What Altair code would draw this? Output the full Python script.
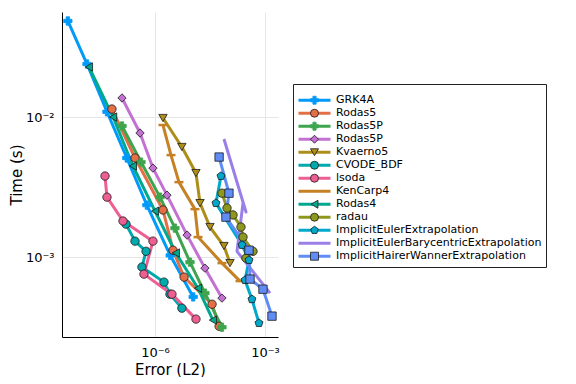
import altair as alt
import pandas as pd

series_names = ["GRK4A", "Rodas5", "Rodas5P", "Rodas5P\u200b", "Kvaerno5", "CVODE_BDF",
                "lsoda", "KenCarp4", "Rodas4", "radau", "ImplicitEulerExtrapolation",
                "ImplicitEulerBarycentricExtrapolation", "ImplicitHairerWannerExtrapolation"]
series_colors = ["#009AFA", "#E36F47", "#3EA44E", "#C371D2", "#AC8E18", "#00A9AD",
                 "#ED5E93", "#C68125", "#00A98D", "#8E971E", "#00A8CB", "#9B7FE8", "#608CF6"]
pentagon = "M0,-1L0.951,-0.309L0.588,0.809L-0.588,0.809L-0.951,-0.309Z"
empty = "M0,0"
marker_shapes = ["cross", "circle", "cross", "diamond", "triangle-down", "circle",
                 "circle", empty, "triangle-left", "circle", pentagon, empty, "square"]
marker_strokes = ["#009AFA", "#1a1a1a", "#3EA44E", "#1a1a1a", "#1a1a1a", "#1a1a1a",
                  "#1a1a1a", "#1a1a1a", "#1a1a1a", "#1a1a1a", "#1a1a1a", "#1a1a1a", "#1a1a1a"]

grk4a_err = [4.2e-9, 1.4e-8, 4.9e-8, 1.7e-7, 6.0e-7, 2.6e-6, 1.1e-5]
grk4a_time = [0.0485, 0.0239, 0.0109, 0.0051, 0.00235, 0.00103, 0.00052]
rodas5_err = [6.7e-8, 2.85e-7, 1.65e-6, 3.1e-6, 6.2e-6, 3.6e-5, 5.6e-5]
rodas5_time = [0.0114, 0.0051, 0.00217, 0.00112, 0.00072, 0.000461, 0.000321]
rodas5p_err = [1.26e-7, 4.15e-7, 1.37e-6, 3.5e-6, 9.0e-6, 2.3e-5, 6.7e-5]
rodas5p_time = [0.00863, 0.00477, 0.00268, 0.00161, 0.00092, 0.000553, 0.000316]
rodas5p_b_err = [1.26e-7, 3.9e-7, 8.8e-7, 2.12e-6, 7.5e-6, 2.3e-5, 6.7e-5]
rodas5p_b_time = [0.01368, 0.00769, 0.00432, 0.00277, 0.001436, 0.000834, 0.00051]
kvaerno5_err = [1.65e-6, 5.4e-6, 1.31e-5, 1.69e-5, 3.16e-5, 7.6e-5, 1.11e-4]
kvaerno5_time = [0.00984, 0.00611, 0.00398, 0.00243, 0.00164, 0.0012, 0.000906]
cvode_err = [1.62e-7, 2.85e-7, 5.7e-7, 4.4e-7, 1.76e-6, 2.56e-6, 5.4e-6]
cvode_time = [0.00172, 0.0013, 0.0011, 0.000849, 0.000663, 0.000544, 0.000432]
lsoda_err = [4.33e-8, 4.9e-8, 1.34e-7, 8.8e-7, 5.0e-7, 2.9e-6, 1.31e-5]
lsoda_time = [0.00379, 0.00268, 0.00181, 0.0013, 0.000756, 0.000544, 0.000361]
kencarp4_err = [1.65e-6, 2.73e-6, 4.5e-6, 1.23e-5, 1.49e-5, 6.7e-5, 2.08e-4]
kencarp4_time = [0.00877, 0.00535, 0.00343, 0.0022, 0.00139, 0.000906, 0.000674]
rodas4_err = [1.58e-8, 7.2e-8, 2.5e-7, 1.0e-6, 3.7e-6, 1.49e-5, 3.8e-5]
rodas4_time = [0.02275, 0.01, 0.00447, 0.00213, 0.00107, 0.0006, 0.000355]
radau_err = [6.7e-5, 9.2e-5, 1.34e-4, 2.21e-4, 2.51e-4, 4.7e-4, 3.03e-4]
radau_time = [0.00286, 0.00224, 0.002, 0.00164, 0.00139, 0.0011, 0.000984]
iee_err = [6.3e-5, 4.6e-5, 2.36e-4, 3.66e-4, 2.85e-4, 4.4e-4, 6.85e-4]
iee_time = [0.00379, 0.00243, 0.00122, 0.000952, 0.000685, 0.0005, 0.000338]
iebe_err = [7.6e-5, 3.03e-4, 2.51e-4, 1.72e-4, 1.37e-3]
iebe_time = [0.00697, 0.0021, 0.00243, 0.0011, 0.000553]
ihwe_err = [5.6e-5, 1.04e-4, 8.6e-5, 3.66e-4, 3.9e-4, 8.8e-4, 1.55e-3]
ihwe_time = [0.00518, 0.00286, 0.00193, 0.00112, 0.000697, 0.00059, 0.000379]

all_err = [grk4a_err, rodas5_err, rodas5p_err, rodas5p_b_err, kvaerno5_err, cvode_err,
           lsoda_err, kencarp4_err, rodas4_err, radau_err, iee_err, iebe_err, ihwe_err]
all_time = [grk4a_time, rodas5_time, rodas5p_time, rodas5p_b_time, kvaerno5_time, cvode_time,
            lsoda_time, kencarp4_time, rodas4_time, radau_time, iee_time, iebe_time, ihwe_time]

# marker layer uses its own category keys so that its legend is not merged with the line legend
marker_keys = [n + " (marker)" for n in series_names]

rows = []
for k, (name, key, errs, times) in enumerate(zip(series_names, marker_keys, all_err, all_time)):
    for i, (e, t) in enumerate(zip(errs, times)):
        rows.append({"series": name, "mkey": key, "sid": k, "idx": i, "err": e, "time": t})
df = pd.DataFrame(rows)

x_enc = alt.X("err:Q",
              scale=alt.Scale(type="log", domain=[2.91e-9, 2.26e-3], nice=False),
              axis=alt.Axis(values=[1e-6, 1e-3],
                            labelExpr="datum.value < 1e-4 ? '10⁻⁶' : '10⁻³'",
                            title="Error (L2)", titleY=32, titleBaseline="middle",
                            labelPadding=9))
y_enc = alt.Y("time:Q",
              scale=alt.Scale(type="log", domain=[2.69e-4, 0.0562], nice=False),
              axis=alt.Axis(values=[1e-3, 1e-2],
                            labelExpr="datum.value > 5e-3 ? '10⁻²' : '10⁻³'",
                            title="Time (s)", titleX=-46, titleBaseline="middle",
                            labelPadding=8))

legend_common = dict(orient="none", legendY=72, title=" ", titleFontSize=2, titlePadding=4,
                     labelFontSize=11, labelOffset=4, padding=4, clipHeight=12.45,
                     rowPadding=0)

line_legend = alt.Legend(legendX=231, symbolType="stroke", symbolSize=1024,
                         symbolStrokeWidth=3, labelColor="black", labelLimit=400,
                         strokeColor="#222222", fillColor="white", cornerRadius=0,
                         zindex=1, **legend_common)
marker_legend = alt.Legend(legendX=243, symbolSize=64, symbolStrokeWidth=0.8,
                           symbolStrokeColor="#1a1a1a", labelExpr="''", labelLimit=10,
                           zindex=2, **legend_common)

base = alt.Chart(df)

lines = base.mark_line(strokeWidth=3, strokeJoin="round").encode(
    x=x_enc, y=y_enc,
    color=alt.Color("series:N", scale=alt.Scale(domain=series_names, range=series_colors),
                    legend=line_legend),
    detail="sid:N",
    order="idx:Q",
)

ticks = base.transform_filter(alt.datum.series == "KenCarp4").mark_tick(
    orient="horizontal", thickness=2.5, size=9, color="#C68125", opacity=1
).encode(x=x_enc, y=y_enc)

points = base.transform_filter(
    (alt.datum.series != "KenCarp4") & (alt.datum.series != "ImplicitEulerBarycentricExtrapolation")
).mark_point(filled=True, size=70, strokeWidth=0.8, opacity=1).encode(
    x=x_enc, y=y_enc,
    fill=alt.Fill("mkey:N", scale=alt.Scale(domain=marker_keys, range=series_colors),
                  legend=marker_legend),
    shape=alt.Shape("mkey:N", scale=alt.Scale(domain=marker_keys, range=marker_shapes),
                    legend=marker_legend),
    stroke=alt.Stroke("mkey:N", scale=alt.Scale(domain=marker_keys, range=marker_strokes),
                      legend=None),
)

chart = alt.layer(lines, ticks, points).properties(
    width=216, height=325,
    autosize=alt.AutoSizeParams(type="none"),
    padding={"left": 54, "top": 4, "right": 286, "bottom": 40},
).configure(font="DejaVu Sans").configure_view(strokeWidth=0).configure_axis(
    domainColor="black", domainWidth=1, ticks=False, tickSize=0,
    gridColor="#e6e6e6", gridWidth=1,
    labelFontSize=13, labelColor="black",
    titleFontSize=15, titleFontWeight="normal", titleColor="black",
)

chart.save("out.html", embed_options={"renderer": "svg", "actions": False})
